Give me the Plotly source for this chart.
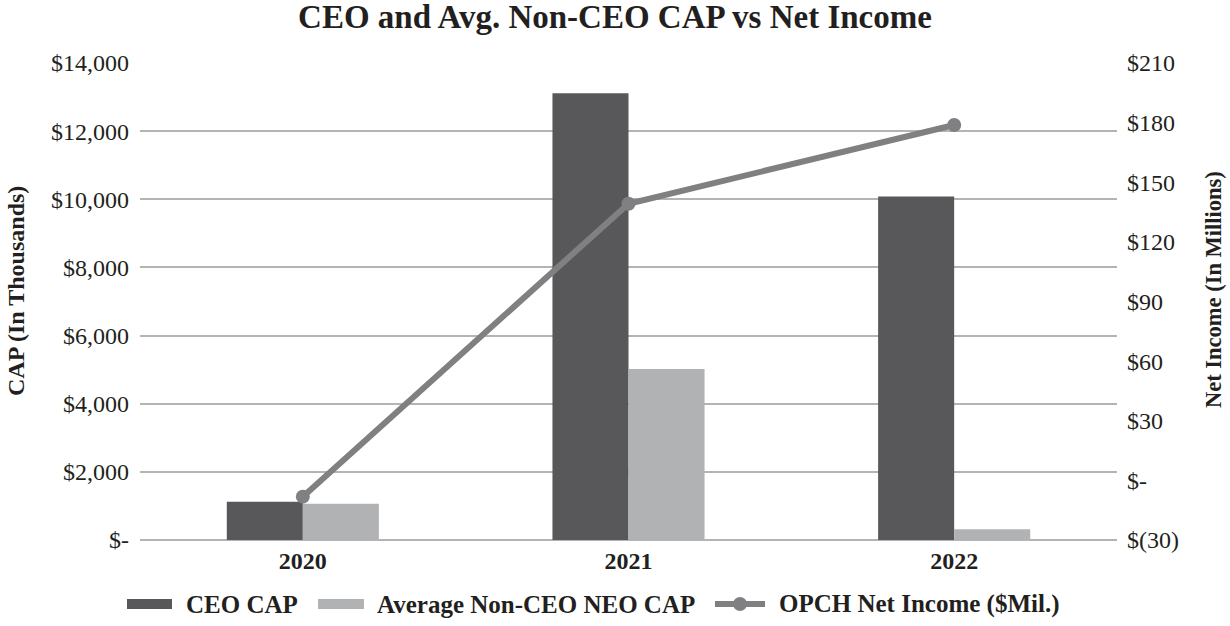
import plotly.graph_objects as go

years = ["2020", "2021", "2022"]
ceo_cap = [1125, 13110, 10080]
non_ceo_cap = [1066, 5020, 315]
net_income = [-8.2, 139.2, 178.8]

left_ticks = [0, 2000, 4000, 6000, 8000, 10000, 12000, 14000]
left_labels = ["$-", "$2,000", "$4,000", "$6,000", "$8,000", "$10,000", "$12,000", "$14,000"]
right_ticks = [-30, 0, 30, 60, 90, 120, 150, 180, 210]
right_labels = ["$(30)", "$-", "$30", "$60", "$90", "$120", "$150", "$180", "$210"]

series_names = ["CEO CAP", "Average Non-CEO NEO CAP", "OPCH Net Income ($Mil.)"]
series_colors = ["#58585a", "#b1b2b4", "#808083"]

FONT = "Liberation Serif"
TXT = "#231f20"
W, H = 1230, 626
ML, MR, MT, MB = 140, 113, 63, 86


def px(x):
    return (x - ML) / (W - ML - MR)


def py(y):
    return (H - MB - y) / (H - MT - MB)


fig = go.Figure()
fig.add_trace(go.Bar(x=years, y=ceo_cap, name=series_names[0],
                     marker=dict(color=series_colors[0], line=dict(width=0))))
fig.add_trace(go.Bar(x=years, y=non_ceo_cap, name=series_names[1],
                     marker=dict(color=series_colors[1], line=dict(width=0))))
fig.add_trace(go.Scatter(x=years, y=net_income, name=series_names[2],
                         yaxis="y2", mode="lines+markers",
                         line=dict(color=series_colors[2], width=6),
                         marker=dict(size=14, color=series_colors[2])))

fig.update_layout(
    width=W, height=H,
    margin=dict(l=ML, r=MR, t=MT, b=MB, autoexpand=False),
    paper_bgcolor="white", plot_bgcolor="white",
    barmode="group", bargap=0.533, bargroupgap=0,
    showlegend=False,
    font=dict(family=FONT, color=TXT, size=24),
    title=dict(text="<b>CEO and Avg. Non-CEO CAP vs Net Income</b>",
               x=0.5, xanchor="center", y=1 - 16 / H, yanchor="middle",
               font=dict(size=33, family=FONT, color=TXT)),
    xaxis=dict(type="category", showgrid=False, showline=False, ticks="",
               tickfont=dict(size=24, family=FONT), ticklabelstandoff=4,
               tickvals=years, ticktext=["<b>%s</b>" % y for y in years]),
    yaxis=dict(range=[0, 14000], tickvals=left_ticks, ticktext=left_labels,
               showgrid=True, gridcolor="#b4b4b4", gridwidth=2,
               zeroline=True, zerolinecolor="#b4b4b4", zerolinewidth=2,
               showline=False, ticks="", ticklabelstandoff=10,
               tickfont=dict(size=24, family=FONT)),
    yaxis2=dict(range=[-30, 210], tickvals=right_ticks, ticktext=right_labels,
                overlaying="y", side="right", showgrid=False, zeroline=False,
                showline=False, ticks="", ticklabelstandoff=9,
                tickfont=dict(size=24, family=FONT)),
)

# Axis titles
fig.add_annotation(xref="paper", yref="paper", x=px(16), y=py(291),
                   xanchor="center", yanchor="middle", showarrow=False,
                   textangle=-90, text="<b>CAP (In Thousands)</b>",
                   font=dict(size=24, family=FONT, color=TXT))
fig.add_annotation(xref="paper", yref="paper", x=px(1213), y=py(290),
                   xanchor="center", yanchor="middle", showarrow=False,
                   textangle=-90, text="<b>Net Income (In Millions)</b>",
                   font=dict(size=22.5, family=FONT, color=TXT))

# Custom legend (wide swatches as in reference)
LY = 604
fig.add_shape(type="rect", xref="paper", yref="paper",
              x0=px(127), x1=px(172), y0=py(LY - 5), y1=py(LY + 5),
              fillcolor=series_colors[0], line=dict(width=0))
fig.add_shape(type="rect", xref="paper", yref="paper",
              x0=px(318), x1=px(364), y0=py(LY - 5), y1=py(LY + 5),
              fillcolor=series_colors[1], line=dict(width=0))
fig.add_shape(type="line", xref="paper", yref="paper",
              x0=px(715), x1=px(765), y0=py(LY), y1=py(LY),
              line=dict(color=series_colors[2], width=6))
fig.add_shape(type="circle", xref="paper", yref="paper",
              x0=px(733), x1=px(747), y0=py(LY - 7), y1=py(LY + 7),
              fillcolor=series_colors[2], line=dict(width=0))
for xs, name in zip([184, 375, 777], series_names):
    fig.add_annotation(xref="paper", yref="paper", x=px(xs), y=py(LY),
                       xanchor="left", yanchor="middle", showarrow=False,
                       text="<b>%s</b>" % name,
                       font=dict(size=25, family=FONT, color=TXT))

fig.write_html("out.html",
               config={"displayModeBar": False},
               post_script="document.body.style.margin='0px';document.body.style.overflow='hidden';")
